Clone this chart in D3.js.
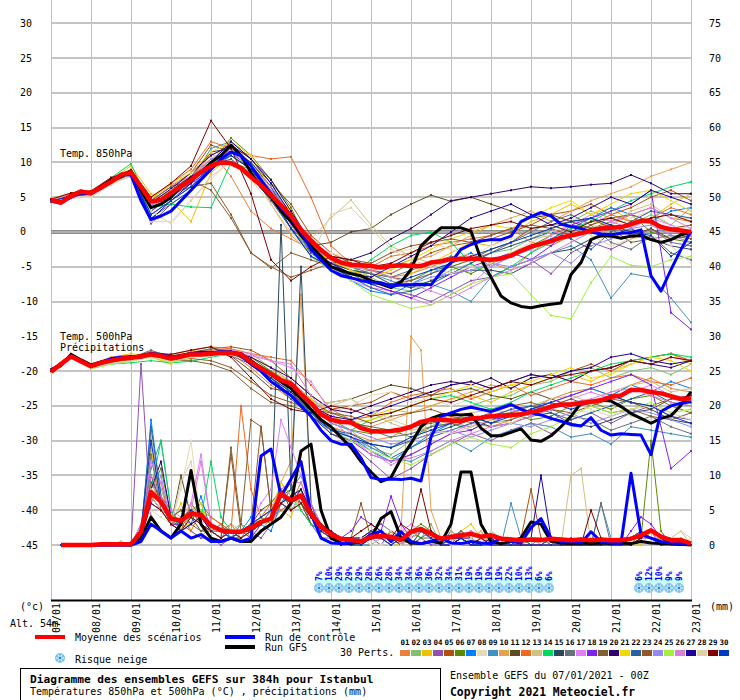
<!DOCTYPE html>
<html>
<head>
<meta charset="utf-8">
<script src="https://cdn.jsdelivr.net/npm/d3@7"></script>
<style>
body { margin: 0; background: #fff; }
text { font-family: "DejaVu Sans Mono", monospace; font-size: 10px; fill: #000; }
</style>
</head>
<body>
<script>
// GEFS ensemble, Istanbul, run 07/01/2021 00Z
// mean / control / GFS every 6h (65 pts), perturbations temps every 12h (33 pts), precip every 6h from +6h (64 pts)

let dayLabels = ['07/01','08/01','09/01','10/01','11/01','12/01','13/01','14/01','15/01',
                 '16/01','17/01','18/01','19/01','20/01','21/01','22/01','23/01'];
let tempTicks = [30,25,20,15,10,5,0,-5,-10,-15,-20,-25,-30,-35,-40,-45];
let tempGrid  = [30,25,20,15,10,5,-5,-10,-20,-25,-30,-35,-40,-45];
let precTicks = [75,70,65,60,55,50,45,40,35,30,25,20,15,10,5,0];

let pertColors = ['#e8803a','#80c070','#f0c000','#9050b0','#b05010','#5a8a00','#0080ff','#e8d8b8','#4090c0','#e8a050',
                  '#604c20','#f06820','#d0c080','#00d860','#284860','#687078','#e080f8','#8020f0','#806030','#300070',
                  '#f0d800','#2860a0','#905828','#9888f0','#a0f040','#d880d8','#200098','#e0d0a8','#800000','#0038c0'];

let mean850 = [4.6,4.2,5.2,5.8,5.6,6.4,7.2,8.2,8.6,6.5,
               4.4,4.6,5.6,6.6,7.5,8.6,9.5,10.0,9.9,9.2,
               7.9,6.7,5.3,3.8,2.3,0.3,-1.2,-2.6,-3.7,-4.4,
               -4.7,-4.8,-4.9,-5.1,-4.9,-4.8,-4.9,-4.9,-4.4,-4.2,
               -3.9,-3.9,-3.8,-3.9,-4.0,-3.8,-3.4,-2.7,-2.1,-1.7,
               -1.3,-0.8,-0.5,-0.2,0.2,0.5,0.6,0.7,1.1,1.6,
               1.5,0.7,0.4,0.2,0.0];
let ctrl850 = [4.4,4.2,5.0,5.6,5.5,6.3,7.3,8.3,8.2,4.5,
               1.8,2.3,3.0,4.5,6.0,7.5,9.0,10.5,11.5,11.0,
               9.5,7.5,5.5,3.5,2.0,0.0,-2.5,-4.0,-5.5,-6.3,
               -6.6,-7.0,-7.2,-7.3,-7.8,-7.6,-7.6,-7.5,-7.6,-5.8,
               -4.4,-2.5,-1.8,-1.3,-1.1,-1.1,-0.6,1.5,2.2,2.8,
               2.3,1.1,0.8,0.5,0.0,-0.3,-0.4,-0.2,-0.1,0.3,
               -6.3,-8.5,-5.4,-2.5,0.1];
let gfs850  = [4.5,4.3,5.3,5.9,5.5,6.5,7.4,8.0,8.8,6.0,
               3.5,4.0,5.0,6.5,7.8,8.5,10.0,11.0,12.5,11.0,
               8.5,6.5,5.0,3.0,1.5,-0.5,-2.0,-3.5,-5.0,-5.5,
               -6.0,-6.3,-7.0,-7.5,-8.0,-7.2,-5.4,-2.0,-0.6,0.6,
               0.6,0.6,0.1,-3.9,-6.5,-9.2,-10.2,-10.7,-10.9,-10.6,
               -10.4,-10.2,-6.1,-4.4,-1.1,-0.5,-0.6,-0.9,-0.6,-0.5,
               -1.1,-1.5,-1.1,-0.4,-0.1];

let mean500 = [-20.1,-19.0,-17.9,-18.6,-19.3,-18.8,-18.5,-18.2,-18.1,-17.9,
               -17.6,-17.8,-18.2,-17.9,-17.6,-17.6,-17.5,-17.4,-17.4,-17.6,
               -18.7,-19.6,-20.4,-21.3,-21.8,-23.3,-24.6,-26.2,-27.0,-27.3,
               -27.4,-28.2,-28.6,-28.7,-28.6,-28.4,-28.0,-27.3,-27.0,-27.0,
               -27.1,-27.2,-26.8,-26.7,-26.5,-26.4,-26.3,-26.2,-25.9,-25.6,
               -25.1,-24.8,-24.8,-24.6,-24.4,-24.2,-23.7,-23.5,-22.7,-22.7,
               -23.0,-23.2,-23.6,-24.0,-23.9];
let ctrl500 = [-19.8,-19.1,-17.8,-18.6,-19.3,-18.7,-18.2,-18.0,-17.9,-18.0,
               -17.5,-17.6,-18.0,-17.8,-17.5,-17.3,-17.4,-17.2,-17.3,-17.8,
               -19.0,-20.0,-21.5,-22.5,-23.5,-25.0,-26.5,-28.5,-30.0,-30.5,
               -30.5,-32.5,-35.3,-35.6,-35.5,-35.6,-35.4,-35.8,-29.5,-26.5,
               -26.0,-25.5,-25.2,-25.5,-25.8,-25.3,-24.8,-25.5,-26.0,-26.3,
               -26.8,-27.2,-27.7,-27.9,-26.7,-28.5,-29.2,-29.0,-29.1,-29.2,
               -32.0,-25.8,-25.0,-24.6,-24.4];
let gfs500  = [-19.9,-19.2,-17.6,-18.4,-19.1,-18.7,-18.4,-18.1,-18.0,-17.8,
               -17.5,-17.7,-18.1,-17.8,-17.5,-17.5,-17.4,-17.3,-17.3,-17.5,
               -18.5,-19.5,-20.5,-21.5,-22.5,-24.0,-25.5,-27.0,-28.0,-29.5,
               -31.0,-33.0,-34.5,-35.9,-35.3,-32.6,-30.4,-28.0,-26.8,-26.3,
               -26.2,-26.3,-26.2,-28.2,-29.3,-29.3,-28.8,-28.3,-29.9,-30.1,
               -29.3,-28.0,-26.5,-24.6,-24.4,-24.2,-24.3,-25.1,-26.1,-26.8,
               -27.5,-26.8,-26.4,-24.9,-23.0];

let meanPrec = [null,0,0,0,0,0.1,0.1,0.1,0.1,1.9,
                7.6,6.2,3.8,3.5,4.5,4.3,2.8,2.1,1.9,1.9,
                2.5,3.3,3.8,7.4,6.4,7.1,4.5,2.6,1.5,0.9,
                0.7,0.5,1.2,1.3,1.2,0.7,1.9,2.3,1.6,0.9,
                1.2,1.4,1.6,1.2,1.4,0.9,0.8,0.7,0.8,0.7,
                0.9,0.8,0.7,0.8,0.7,0.8,0.7,0.7,0.9,1.4,
                2.1,1.2,0.7,0.7,0.2];
let ctrlPrec = [null,0,0,0,0,0,0,0,0,0.5,
                3,2,1,2,1,1.5,0.5,0.5,1,0.5,
                1,12.8,13.8,7,9.5,12,4.5,1,0.3,0.2,
                0.3,0.5,1.5,2,0.5,1.9,0.5,0.2,0.5,1,
                0.3,0.2,0.5,0.3,0.2,1,0.5,0.3,2.5,3.8,
                1,0.5,0.5,0.3,1.9,0.5,0.3,0.2,10.3,1.5,
                1,0.5,0.3,0.2,0.1];
let gfsPrec  = [null,0,0,0,0,0,0,0,0,1,
                4,2,1,3,10.7,3,1,0.5,1,0.5,
                0.5,2,3,4,6,13.5,14.5,5,1,0.3,
                0.2,0.5,1,3.8,4.8,1,0.3,0.2,0.5,0.3,
                3,10.5,10.5,3,0.5,0.2,0.5,1,3.3,3,
                0.5,0.3,0.2,0.3,0.2,0.3,0.2,0.3,0.2,0.5,
                0.3,0.2,0.2,0.1,0];

let pert850 = [
 [4.6,5.4,5.7,7.6,8.6,3.8,6.0,7.0,11.5,8.0, 3.0,0.5,-1.0,-2.5,-4.0,-5.5,-6.0,-6.5,-6.0,-5.0, -4.0,-3.0,-4.5,-5.5,-3.0,-1.0,0.5,2.0,1.0,2.5, 3.5,2.0,1.5],
 [4.4,5.2,5.6,7.2,8.8,3.0,5.0,8.0,10.5,10.0, 8.5,5.0,2.0,-2.0,-4.5,-5.0,-6.5,-8.0,-8.5,-7.0, -5.5,-4.5,-3.0,-2.5,-1.0,0.5,1.5,3.0,2.0,1.0, 2.5,1.0,3.5],
 [4.7,5.5,5.3,7.5,9.5,5.5,4.5,1.5,8.5,11.0, 9.0,6.0,3.0,-1.5,-3.5,-5.5,-7.0,-8.0,-6.0,-4.5, -3.0,-1.5,-2.0,-0.5,1.5,2.5,4.0,2.5,3.5,1.5, 2.0,4.0,5.5],
 [4.5,5.0,5.6,7.0,9.0,1.2,4.0,6.0,9.5,12.0, 9.5,6.5,1.0,-3.0,-4.5,-6.0,-7.5,-8.5,-9.0,-10.0, -8.5,-7.0,-6.5,-5.0,-4.0,-6.0,-3.0,-1.5,-2.5,-1.0, 0.5,-1.5,-2.0],
 [4.3,5.6,5.8,7.8,8.2,4.5,6.5,8.5,12.5,11.5, 10.0,7.0,4.0,-0.5,-3.0,-4.5,-5.5,-6.0,-4.5,-3.0, -2.0,-1.5,-1.0,0.0,1.0,2.5,3.0,4.0,2.5,3.5, 5.0,6.0,4.5],
 [4.6,5.3,5.5,7.3,8.6,4.0,5.5,7.0,10.0,13.5, 11.0,7.5,3.5,-2.5,-4.0,-6.5,-7.0,-7.5,-7.0,-5.5, -5.0,-6.0,-4.5,-3.5,-2.0,-0.5,1.0,0.5,1.5,2.5, 0.0,-1.0,-1.5],
 [4.4,5.1,5.4,7.0,8.4,2.5,4.5,6.5,9.0,11.0, 9.0,5.5,0.5,-3.5,-5.0,-7.0,-8.5,-9.0,-7.5,-6.0, -4.5,-3.0,-5.0,-3.5,-2.5,-1.0,0.5,2.0,3.5,2.5, 1.5,3.0,3.5],
 [4.2,4.8,5.0,6.8,8.0,1.5,1.5,4.5,7.5,10.5, 8.5,5.0,1.5,-2.0,-3.0,-4.0,-4.5,-3.0,-2.5,-1.5, -2.5,-3.5,-2.0,-1.0,0.0,1.5,2.0,1.0,0.5,2.0, 3.0,1.0,0.5],
 [4.5,5.3,5.6,7.4,8.9,3.5,5.0,7.5,12.0,13.0, 10.5,7.0,2.0,-2.5,-4.5,-5.5,-6.0,-7.0,-8.0,-7.5, -8.5,-10.0,-6.5,-5.0,-4.0,-3.0,-2.0,-4.0,-9.5,-6.0, -6.5,-9.5,-13.0],
 [4.8,5.6,5.9,7.7,8.3,4.8,6.8,8.0,11.0,12.5, 9.5,4.0,-0.5,-3.0,-4.5,-5.0,-5.5,-5.0,-4.0,-3.5, -2.0,-0.5,1.0,2.0,3.0,1.5,3.0,4.5,5.5,6.5, 8.0,9.0,10.0],
 [4.6,5.4,5.6,7.4,8.5,4.2,6.0,8.0,10.0,11.0, 9.0,5.0,0.5,-2.0,-1.5,0.0,0.5,2.5,4.0,5.3, 4.4,5.0,4.0,3.0,2.0,2.5,1.5,0.5,1.0,-0.5, 0.5,-1.0,-0.5],
 [4.5,5.3,5.5,7.5,8.8,5.0,7.0,9.0,13.0,12.0, 11.0,10.5,10.8,5.0,-2.0,-4.5,-5.0,-3.5,-3.0,-2.0, -1.5,-1.0,-0.5,0.5,-1.5,-2.0,-0.5,1.0,2.5,1.5, 2.0,3.5,2.5],
 [4.6,5.5,5.4,7.0,8.0,3.5,5.5,7.5,10.5,12.5, 10.0,6.5,2.5,-1.0,2.0,4.6,1.0,-2.0,-3.5,-4.5, -5.0,-4.0,-3.0,-2.0,-1.0,-0.5,0.5,1.5,1.0,3.0, 4.0,2.0,2.0],
 [4.3,5.0,5.6,7.8,9.8,3.5,4.0,3.6,3.5,10.0, 9.0,6.0,2.0,-3.0,-5.5,-6.0,-4.0,-2.0,-0.5,0.0, -1.5,-4.5,-6.5,-5.0,-3.0,-1.5,0.5,1.5,3.0,4.5, 5.5,6.5,7.2],
 [4.5,5.3,5.6,7.3,8.6,4.0,6.0,8.0,11.5,12.0, 10.0,6.5,1.5,-3.0,-4.5,-5.5,-6.0,-7.5,-8.0,-7.0, -6.0,-5.5,-5.5,-6.0,-4.5,-3.0,-2.5,-1.0,-0.5,0.5, -1.0,-2.0,-2.5],
 [4.4,5.2,5.5,7.2,8.4,3.8,5.5,7.0,10.0,11.5, 9.0,6.0,2.5,-2.0,-4.0,-5.0,-6.0,-6.5,-5.5,-4.5, -3.5,-4.0,-3.0,-1.5,0.0,1.5,2.5,1.0,-1.5,-2.5, -0.5,-3.0,-4.0],
 [4.5,5.4,5.6,7.4,8.7,4.5,6.5,8.0,10.5,11.0, 9.5,6.0,1.0,-3.0,-5.0,-7.0,-8.0,-8.5,-9.5,-10.5, -9.0,-7.5,-5.0,-3.5,-2.5,-0.5,1.0,2.5,1.5,0.5, 2.0,1.0,-0.5],
 [4.6,5.3,5.7,7.5,8.5,3.0,5.0,7.0,9.0,11.5, 9.0,5.5,1.5,-3.5,-5.5,-6.5,-7.5,-8.5,-9.5,-8.0, -6.5,-5.0,-4.0,-3.0,-4.0,-2.0,1.0,2.0,3.0,4.0, 6.0,-11.6,-14.0],
 [4.5,5.5,5.7,7.5,8.7,4.5,6.5,7.5,6.0,2.0, -3.0,-5.2,-3.0,-4.0,-5.0,-6.0,-5.5,-6.5,-7.0,-6.0, -5.0,-4.0,-2.5,-1.5,0.5,1.0,1.5,2.0,0.5,-1.5, -1.0,-0.5,-1.0],
 [4.5,5.4,5.8,7.6,8.8,4.2,6.2,8.5,11.0,12.5, 10.5,7.5,3.0,-1.5,-3.5,-4.0,-3.0,-1.0,0.5,2.5, 4.5,5.0,5.5,6.0,6.5,6.3,6.5,6.8,7.0,8.2, 7.0,5.5,5.5],
 [4.6,5.5,5.6,7.4,9.0,4.8,7.0,8.5,11.5,13.0, 11.0,6.0,1.5,-2.5,-4.0,-5.5,-6.5,-5.5,-4.0,-2.5, -1.0,0.0,1.0,0.5,2.0,3.5,4.5,2.5,4.0,5.5, 6.0,4.5,3.0],
 [4.3,5.1,5.4,7.1,8.3,2.0,4.0,6.0,9.5,10.5, 8.0,4.5,0.5,-3.0,-5.0,-6.5,-8.0,-9.0,-8.5,-7.5, -6.0,-4.5,-3.0,-2.0,-1.0,0.0,-1.0,-2.5,0.0,1.5, 3.0,2.5,2.0],
 [4.4,5.2,5.8,7.2,8.3,4.0,5.5,6.5,7.0,2.5, -3.0,-5.0,-6.5,-5.5,-4.5,-4.0,-4.5,-3.0,-2.0,-1.5, -1.0,-1.5,-0.5,0.5,1.0,0.5,-0.5,1.0,2.0,2.5, 1.5,0.5,1.0],
 [4.5,5.2,5.6,7.3,8.6,3.5,5.5,7.5,10.5,11.5, 9.5,6.5,2.5,-2.5,-4.5,-6.0,-7.0,-8.0,-7.5,-6.5, -6.0,-5.5,-4.5,-5.0,-4.0,-3.0,-4.5,-2.0,-1.0,0.5, 1.0,-0.5,-1.5],
 [4.4,5.3,5.6,7.4,8.5,4.0,6.0,7.5,10.0,11.0, 9.5,6.0,1.5,-3.5,-5.5,-7.0,-9.0,-10.0,-11.0,-10.5, -9.0,-7.5,-6.5,-6.0,-9.0,-12.0,-12.5,-7.3,-3.5,-4.8, -5.0,-4.0,-3.5],
 [4.5,5.4,5.5,7.3,8.4,3.8,5.8,7.8,10.0,12.0, 9.5,6.0,2.0,-2.0,-4.0,-5.0,-5.5,-6.5,-7.5,-8.5, -9.5,-8.0,-6.5,-5.5,-4.5,-3.0,-1.5,0.0,1.5,2.5, 3.5,2.0,0.5],
 [4.4,5.2,5.6,7.6,8.9,1.8,4.5,7.0,10.0,13.0, 10.5,7.0,2.5,-2.5,-4.5,-6.0,-6.5,-5.0,-3.5,-2.0, 0.0,2.0,3.0,4.0,2.5,1.0,2.0,3.5,5.0,4.0, 6.0,5.0,4.0],
 [4.3,5.0,5.2,6.9,8.1,3.0,1.2,4.5,8.0,10.0, 7.5,4.0,0.0,-3.5,2.5,3.5,0.5,-2.5,-4.0,-5.0, -6.0,-5.0,-4.5,-3.0,-1.5,0.0,1.0,-0.5,-2.0,-1.0, -0.5,-2.0,-4.5],
 [4.7,5.6,5.9,7.8,8.9,5.0,7.0,9.5,16.0,12.0, 5.5,-4.0,-7.0,-5.0,-3.5,-4.0,-5.0,-4.5,-3.0,-1.5, -0.5,0.5,1.0,1.5,0.5,1.0,0.0,1.5,2.0,1.0, 2.0,2.5,1.5],
 [4.4,5.2,5.5,7.2,8.5,2.5,4.5,6.5,9.5,11.0, 9.0,5.5,0.5,-3.5,-5.0,-6.5,-7.5,-7.5,-6.5,-5.5, -4.5,-3.5,-2.5,-1.5,-0.5,0.5,1.5,2.0,1.0,0.0, -0.5,-3.5,-1.5]
];

let pert500 = [
 [-20.0,-18.0,-19.0,-18.2,-17.8,-17.5,-18.0,-17.3,-17.0,-17.5, -19.5,-22.0,-24.0,-26.5,-28.0,-29.0,-30.0,-29.5,-28.0,-27.0, -26.5,-27.5,-28.0,-27.0,-25.5,-24.0,-23.0,-22.5,-23.5,-22.0, -21.0,-22.5,-23.0],
 [-19.8,-17.8,-19.5,-18.8,-18.3,-17.8,-18.5,-17.8,-17.2,-17.0, -17.5,-19.5,-22.5,-25.0,-27.5,-28.5,-31.0,-32.0,-30.0,-28.0, -26.0,-25.0,-24.0,-23.5,-22.0,-21.5,-20.0,-19.5,-21.0,-20.0, -19.5,-20.5,-19.0],
 [-20.1,-17.5,-19.0,-18.0,-17.5,-18.0,-19.0,-17.0,-17.5,-17.0, -18.5,-20.0,-21.5,-24.0,-26.0,-27.0,-26.5,-25.5,-26.0,-25.0, -24.0,-23.5,-24.5,-23.0,-22.0,-21.0,-20.5,-21.5,-20.0,-19.0, -18.0,-17.5,-19.0],
 [-19.9,-17.9,-19.2,-18.6,-18.2,-17.6,-18.1,-17.5,-17.6,-17.8, -19.0,-21.0,-23.0,-26.0,-29.0,-30.5,-33.0,-35.5,-34.0,-32.0, -30.5,-29.0,-30.0,-28.5,-27.5,-29.0,-27.0,-26.0,-27.5,-26.0, -25.0,-26.5,-27.0],
 [-20.0,-17.6,-19.1,-18.4,-18.0,-17.2,-17.8,-17.3,-16.8,-16.5, -17.0,-18.5,-21.0,-23.5,-25.5,-25.0,-24.5,-23.0,-24.0,-23.5, -22.0,-21.5,-22.5,-21.5,-20.5,-21.0,-20.0,-19.0,-20.0,-18.5, -18.0,-17.5,-18.5],
 [-19.8,-17.7,-19.3,-18.5,-18.1,-17.9,-18.3,-17.7,-17.3,-17.2, -18.0,-20.0,-22.5,-25.5,-27.0,-28.5,-29.0,-28.5,-29.5,-28.0, -27.5,-28.5,-27.0,-26.0,-27.0,-26.5,-25.0,-24.5,-25.5,-24.0, -23.5,-25.0,-26.0],
 [-20.0,-17.8,-19.4,-18.6,-18.3,-17.7,-18.4,-17.9,-17.6,-17.5, -18.5,-20.5,-23.0,-26.0,-28.5,-29.5,-31.5,-33.0,-31.0,-29.0, -27.5,-26.5,-27.5,-26.0,-25.0,-24.5,-23.5,-22.5,-23.5,-22.0, -23.0,-21.5,-22.5],
 [-20.2,-17.9,-19.6,-18.9,-18.4,-18.0,-18.6,-18.0,-17.7,-17.6, -18.8,-21.0,-22.0,-24.5,-26.0,-25.0,-23.5,-23.0,-24.5,-24.0, -25.0,-24.0,-25.5,-26.5,-25.5,-24.5,-25.5,-26.0,-25.0,-26.5, -27.0,-26.0,-25.5],
 [-19.9,-17.7,-19.2,-18.5,-18.1,-17.6,-18.2,-17.6,-17.5,-17.3, -18.5,-20.5,-22.5,-25.5,-28.0,-29.5,-31.0,-32.5,-33.0,-31.5, -30.0,-31.5,-29.5,-28.5,-27.5,-28.0,-29.5,-29.0,-30.5,-28.0, -28.5,-29.0,-29.5],
 [-20.0,-17.5,-19.0,-18.3,-17.9,-17.4,-17.9,-17.4,-17.2,-17.0, -18.0,-19.5,-21.5,-24.0,-26.5,-27.5,-28.0,-27.0,-26.0,-25.0, -24.0,-23.0,-22.0,-22.5,-21.0,-20.5,-21.5,-20.0,-19.5,-18.5, -19.0,-18.0,-18.5],
 [-19.9,-17.8,-19.3,-18.6,-18.2,-17.7,-18.3,-17.7,-17.6,-17.8, -20.0,-22.5,-23.0,-25.0,-24.5,-24.0,-23.0,-22.0,-22.5,-23.5, -23.0,-22.5,-23.5,-24.0,-23.0,-24.0,-25.0,-24.5,-23.5,-24.5, -25.5,-24.0,-23.5],
 [-20.0,-17.6,-19.1,-18.4,-18.0,-17.3,-17.6,-17.0,-16.5,-16.8, -17.5,-18.0,-18.5,-22.0,-25.5,-27.0,-26.5,-24.5,-23.5,-23.0, -22.5,-24.0,-23.0,-22.0,-23.5,-22.5,-21.5,-22.0,-21.0,-20.5, -21.5,-22.0,-21.0],
 [-20.1,-17.8,-19.4,-18.7,-18.3,-17.8,-18.4,-17.8,-17.4,-17.3, -18.5,-20.5,-22.0,-24.5,-25.0,-24.0,-26.0,-27.5,-28.5,-28.0, -27.0,-26.0,-25.5,-26.0,-25.0,-24.0,-23.5,-24.5,-23.0,-22.0, -21.5,-23.0,-22.5],
 [-19.7,-17.9,-19.6,-19.0,-18.8,-18.5,-18.8,-18.6,-18.0,-17.5, -18.5,-20.0,-22.0,-25.0,-27.5,-28.5,-27.0,-26.0,-25.0,-24.0, -23.5,-24.5,-25.5,-24.5,-23.0,-22.0,-21.0,-20.0,-19.0,-18.5, -18.0,-17.5,-18.0],
 [-19.9,-17.7,-19.2,-18.5,-18.2,-17.6,-18.1,-17.5,-17.3,-17.4, -18.8,-21.0,-23.5,-26.5,-29.0,-30.0,-30.5,-31.0,-30.0,-29.0, -28.0,-27.0,-28.0,-27.5,-26.5,-26.0,-27.5,-28.0,-27.0,-26.0, -25.5,-27.0,-27.5],
 [-20.0,-17.8,-19.3,-18.5,-18.1,-17.0,-18.0,-17.5,-16.8,-17.0, -18.3,-20.5,-22.5,-24.5,-26.0,-27.0,-28.5,-29.5,-29.0,-28.0, -27.5,-28.0,-27.0,-26.0,-25.0,-25.5,-26.5,-27.0,-28.5,-27.5, -26.5,-28.0,-29.0],
 [-20.0,-17.6,-19.1,-18.3,-17.9,-17.5,-18.2,-17.5,-17.2,-17.0, -17.5,-18.5,-19.5,-21.5,-26.0,-29.0,-31.5,-33.5,-32.0,-30.5, -29.0,-27.5,-26.5,-25.5,-26.5,-25.0,-24.0,-23.0,-24.0,-23.0, -22.0,-23.5,-24.0],
 [-19.9,-17.8,-19.3,-18.6,-18.2,-17.7,-18.3,-17.6,-17.4,-17.5, -18.5,-20.5,-23.0,-26.5,-28.5,-30.0,-32.0,-33.0,-32.0,-30.5, -29.0,-28.5,-27.0,-26.5,-25.5,-24.5,-23.5,-22.5,-21.5,-20.5, -22.0,-34.0,-31.5],
 [-20.0,-17.9,-19.4,-18.7,-18.3,-17.8,-18.5,-18.5,-19.0,-20.0, -22.5,-24.5,-25.0,-26.0,-27.0,-27.5,-28.0,-28.5,-28.0,-27.5, -27.0,-26.5,-27.5,-27.0,-26.0,-25.0,-24.0,-25.0,-26.0,-25.5, -26.5,-27.0,-26.0],
 [-19.8,-17.6,-19.1,-18.4,-18.0,-17.4,-18.0,-17.4,-17.2,-17.1, -18.0,-19.5,-21.0,-23.5,-25.5,-26.0,-25.0,-24.0,-23.0,-22.0, -21.5,-22.0,-21.0,-22.5,-21.0,-20.5,-21.5,-20.0,-19.5,-18.5, -19.0,-19.5,-18.5],
 [-20.0,-17.7,-19.3,-18.6,-18.2,-17.8,-18.6,-17.3,-17.6,-17.4, -18.7,-20.5,-22.0,-24.0,-26.5,-27.5,-27.0,-26.0,-25.0,-24.0, -23.0,-22.0,-23.0,-22.0,-21.5,-20.5,-19.5,-21.0,-20.5,-19.0, -18.0,-18.5,-20.0],
 [-19.9,-17.8,-19.3,-18.5,-18.1,-17.6,-18.2,-17.7,-17.6,-17.6, -19.0,-21.5,-24.0,-26.5,-28.5,-29.0,-30.5,-32.5,-31.0,-29.5, -28.5,-27.5,-26.5,-25.5,-25.0,-26.0,-27.0,-26.0,-25.0,-24.0, -23.0,-24.5,-25.0],
 [-20.0,-17.8,-19.4,-18.6,-18.2,-17.8,-18.4,-18.2,-18.5,-19.5, -21.5,-23.5,-24.5,-25.5,-26.0,-26.5,-27.5,-26.5,-26.0,-25.5, -26.5,-27.0,-26.0,-25.0,-24.5,-25.5,-26.0,-25.0,-24.0,-24.5, -25.0,-24.0,-24.5],
 [-19.9,-17.7,-19.2,-18.5,-18.1,-17.6,-18.2,-17.6,-17.4,-17.3, -18.6,-20.5,-22.5,-25.0,-27.5,-28.5,-29.5,-30.5,-30.0,-29.0, -28.5,-29.5,-28.5,-27.5,-28.0,-27.0,-26.0,-27.5,-26.5,-25.5, -26.0,-27.0,-28.0],
 [-20.0,-17.8,-19.7,-19.0,-18.6,-18.0,-18.8,-18.0,-17.7,-17.6, -18.9,-20.8,-23.0,-26.0,-28.5,-30.0,-31.5,-32.5,-33.5,-32.0, -30.5,-29.5,-30.5,-31.0,-29.0,-28.0,-26.5,-25.0,-26.0,-25.5, -24.5,-26.0,-25.5],
 [-20.0,-17.7,-19.2,-18.5,-18.1,-17.5,-18.1,-17.5,-17.3,-17.2, -17.8,-18.5,-19.0,-23.5,-27.0,-29.5,-32.0,-33.0,-32.5,-31.5, -30.0,-29.0,-28.0,-27.5,-26.5,-25.5,-24.5,-24.0,-23.0,-22.5, -23.5,-24.5,-25.0],
 [-19.9,-17.8,-19.3,-18.5,-18.1,-17.6,-18.2,-17.6,-17.3,-17.2, -18.5,-20.5,-22.5,-25.0,-26.5,-27.0,-26.0,-25.0,-24.0,-23.0, -22.0,-21.5,-22.5,-21.5,-20.5,-21.0,-20.0,-19.5,-18.0,-17.5, -18.5,-19.0,-18.5],
 [-20.2,-18.0,-19.6,-18.9,-18.5,-18.0,-18.6,-18.0,-17.8,-17.7, -18.8,-20.5,-22.5,-25.0,-24.5,-24.0,-25.5,-27.0,-28.0,-28.5, -29.0,-28.0,-27.0,-27.5,-26.0,-25.0,-24.5,-25.5,-26.5,-25.5, -25.0,-26.0,-27.0],
 [-20.0,-17.6,-19.1,-18.3,-17.9,-17.5,-17.6,-17.0,-16.5,-18.0, -21.0,-24.0,-25.5,-26.0,-25.0,-25.5,-26.5,-26.0,-25.0,-24.0, -24.5,-23.5,-22.5,-21.5,-22.0,-21.0,-20.5,-20.0,-19.5,-18.5, -19.0,-18.0,-18.5],
 [-19.9,-17.7,-19.2,-18.5,-18.1,-17.6,-18.2,-17.6,-17.5,-17.4, -18.7,-21.0,-23.0,-26.0,-28.5,-29.5,-30.5,-31.0,-29.5,-28.5, -27.5,-26.5,-27.5,-26.5,-25.5,-24.5,-25.5,-24.5,-23.5,-24.5, -25.0,-26.5,-27.5]
];

let pertPrec = [
 [0,0,0,0,0,0,0,0, 1,9,6,3,2,4,6,2, 1,2,1,2,3,5,8,6, 9,5,2,1,0,0,0,1, 2,1,0,1,2,2,1,0, 0,1,2,0,0,1,0,0, 0,1,0,0,1,0,0,0, 0,1,2,1,0,0,0,0],
 [0,0,0,0,0,0,0,0, 2,12,8,4,3,5,3,2, 1,2,3,1,2,4,6,8, 6,3,2,1,0,0,1,2, 1,0,1,2,1,3,0,0, 1,0,0,2,1,0,0,1, 0,0,1,0,0,1,0,0, 0,0,1,2,1,0,0,0],
 [0,0,0,0,0,0,0,0, 1,14,5,3,6,2,1,3, 2,1,2,3,4,3,5,4, 8,4,3,2,1,0,0,0, 1,0,0,2,2,1,0,1, 2,3,1,0,0,0,1,0, 0,0,0,1,0,0,1,0, 1,0,0,2,1,1,0,0],
 [0,0,0,0,0,0,0,0, 26,4,2,1,3,2,1,1, 0,1,1,2,1,3,6,5, 7,3,1,1,0,0,0,1, 0,2,1,0,1,0,0,1, 0,0,1,0,0,0,0,0, 0,1,0,0,0,0,0,0, 0,0,1,1,0,0,0,0],
 [0,0,0,0,0,0,0,0, 2,10,7,5,2,6,4,3, 2,3,2,1,2,3,7,9, 5,3,2,1,1,0,0,1, 2,1,0,1,2,1,0,0, 1,0,0,0,1,0,1,8, 1,0,1,0,0,0,1,0, 0,1,2,1,0,1,0,0],
 [0,0,0,0,0,0,0,0, 3,8,11,4,3,5,6,4, 3,2,1,3,4,3,9,7, 6,4,3,2,1,1,0,2, 1,2,0,2,3,2,1,0, 1,2,1,0,0,1,0,0, 0,1,0,0,1,0,0,0, 0,0,1,15,2,0,0,0],
 [0,0,0,0,0,0,0,0, 1,18,7,4,5,3,7,2, 3,1,2,4,3,2,6,8, 10,6,3,2,1,1,0,0, 1,2,1,2,2,1,0,1, 2,1,0,0,1,0,0,1, 1,0,0,0,1,0,0,0, 1,0,2,1,1,0,0,0],
 [0,0,0,0,0,0,0,0, 2,5,4,3,8,15,3,2, 1,3,2,1,4,5,7,6, 8,5,2,1,1,0,1,0, 0,1,0,2,2,1,1,0, 0,1,0,2,0,0,0,0, 0,0,0,0,0,1,0,0, 0,1,1,2,1,0,0,1],
 [0,0,0,0,0,0,0,0, 3,11,15,5,3,4,5,3, 2,1,3,2,3,4,5,6, 7,4,3,1,1,1,0,1, 2,1,0,1,2,1,0,2, 1,0,0,1,0,6,1,0, 0,1,0,0,0,0,6,1, 0,1,2,1,0,0,0,0],
 [0,0,0,0,0,0,0,0, 1,8,6,4,2,3,4,2, 1,3,1,2,3,4,9,12, 36,6,2,1,1,1,2,3, 2,1,2,30,28,5,1,2, 1,0,0,1,1,0,0,1, 1,0,0,0,1,0,0,0, 0,1,1,2,0,1,1,0],
 [0,0,0,0,0,0,0,0, 2,7,5,3,10,4,2,3, 2,1,2,3,5,6,8,5, 6,3,2,2,1,0,0,1, 1,0,1,2,1,2,1,0, 1,2,1,0,0,0,0,0, 0,0,1,0,0,0,0,0, 0,0,1,2,1,0,0,0],
 [0,0,0,0,0,0,0,0, 1,6,9,3,4,2,5,4, 3,2,20,8,4,6,5,6, 7,4,3,2,1,0,0,1, 1,0,1,2,2,2,1,0, 2,1,0,1,0,0,0,1, 0,0,1,0,0,0,0,0, 1,0,1,2,0,0,1,0],
 [0,0,0,0,0,0,0,0, 2,16,6,4,3,6,3,2, 1,2,2,3,4,5,7,8, 6,4,2,1,1,1,0,1, 2,1,0,2,2,2,1,1, 1,1,2,1,0,0,0,0, 0,0,0,10,11,0,0,1, 1,0,2,1,0,1,2,0],
 [0,0,0,0,0,0,0.5,0, 2,8,15,5,2,3,4,12, 4,2,1,2,3,4,6,7, 5,3,2,1,1,0,0,1, 1,2,1,2,1,2,1,0, 1,0,1,0,0,0,0,0, 0,1,0,0,0,0,0,0, 0,1,1,2,1,0,0,0],
 [0,0,0,0,0,0,0,0, 2,10,6,3,3,4,5,2, 2,1,2,2,3,4,46,8, 40,6,2,1,0,1,0,1, 1,2,1,0,2,1,0,1, 1,0,0,1,0,0,1,0, 0,0,0,1,0,0,0,0, 0,1,1,2,1,0,0,0],
 [0,0,0,0,0,0,0,0, 1,13,5,4,2,3,4,3, 2,1,1,2,3,5,6,7, 8,5,3,2,1,1,1,2, 3,2,1,1,2,1,0,1, 2,1,0,0,1,0,0,0, 1,0,0,1,0,0,6,0, 1,0,2,1,0,0,0,0],
 [0,0,0,0,0,0,0,0, 3,12,9,5,4,6,13,3, 2,2,1,3,6,8,18,14, 10,6,3,2,1,1,0,1, 1,0,2,3,2,1,0,0, 1,2,1,0,0,0,0,1, 0,0,1,0,0,0,0,0, 0,1,1,2,1,0,0,0],
 [0,0,0,0,0,0,0,0, 2,6,5,3,3,4,3,2, 1,2,2,1,3,4,6,5, 7,4,2,1,1,2,4,3, 2,7,3,1,2,1,1,0, 1,0,1,0,0,1,0,0, 0,0,0,0,0,1,0,0, 0,2,4,3,1,0,0,0],
 [0,0,0,0,0,0,0,0, 1,9,7,4,5,3,2,2, 1,14,3,18,17,5,8,6, 7,4,2,1,1,0,0,1, 1,2,1,0,1,1,0,1, 1,0,0,1,0,0,0,0, 0,0,0,0,0,1,0,0, 0,1,2,1,0,0,0,0],
 [0,0,0,0,0,0,0,0, 2,8,12,4,3,5,4,3, 2,1,2,2,3,4,7,6, 8,4,2,1,0,1,1,2, 1,2,0,1,2,1,0,0, 1,1,0,0,0,0,0,0, 0,0,0,0,0,0,0,0, 1,0,1,2,1,1,0,0],
 [0,0,0,0,0,0,0,0, 1,7,5,3,2,4,6,2, 1,2,1,2,4,5,9,7, 8,5,3,2,1,1,0,1, 2,1,0,1,2,2,1,1, 1,0,1,0,0,1,0,0, 0,0,1,0,0,0,0,0, 0,1,2,1,1,0,0,0],
 [0,0,0,0,0,0,0,0, 2,17,7,4,3,5,4,3, 2,1,2,3,4,5,7,8, 6,4,2,2,1,0,0,2, 1,0,1,2,2,1,0,1, 1,0,0,0,0,0,0,0, 0,1,0,0,0,0,0,0, 0,1,1,2,1,0,0,0],
 [0,0,0,0,0,0,0,0, 2,8,6,3,4,5,3,2, 1,13,2,3,17,5,7,6, 7,5,3,2,1,1,6,1, 1,2,1,0,2,1,0,1, 1,0,1,0,0,0,1,0, 0,0,0,1,0,0,0,0, 1,1,2,1,0,0,0,0],
 [0,0,0,0,0,0,0,0, 1,6,10,3,4,3,4,2, 1,2,1,2,3,4,6,5, 7,4,2,1,1,0,1,1, 2,1,0,2,2,1,0,0, 1,0,0,1,0,0,0,0, 0,0,0,0,0,0,1,0, 0,1,1,2,0,0,0,0],
 [0,0,0,0,0,0,0.5,0, 2,8,6,4,3,4,5,3, 2,1,2,3,4,5,7,6, 6,4,2,1,1,0,0,1, 1,2,0,1,2,1,1,0, 0,1,0,0,0,0,0,1, 0,0,0,0,0,0,0,0, 0,1,2,1,0,0,0,0],
 [0,0,0,0,0,0,0,0, 2,10,7,4,3,5,12,3, 2,1,2,3,4,5,8,9, 9,5,2,2,1,1,0,1, 1,1,2,2,2,1,0,1, 1,0,1,0,0,0,0,0, 0,0,0,0,1,0,0,0, 0,1,2,1,0,0,1,0],
 [0,0,0,0,0,0,0,0, 1,7,5,3,2,3,4,2, 1,2,1,2,3,4,6,7, 8,5,3,1,1,1,0,1, 2,1,0,1,2,1,0,0, 1,0,0,1,0,0,0,1, 10,1,0,0,0,0,0,0, 0,1,1,2,1,0,0,0],
 [0,0,0,0,0,0,0,0, 2,7,5,3,9,12,3,2, 1,2,1,2,3,4,6,5, 7,4,2,1,1,0,1,0, 1,2,0,1,2,1,1,0, 0,1,0,0,0,0,0,1, 0,0,0,0,0,1,0,0, 0,1,2,1,0,1,2,1],
 [0,0,0,0,0,0,0,0, 1,6,5,3,2,4,3,2, 1,2,1,2,3,4,6,5, 6,4,3,2,1,1,2,3, 2,1,3,2,8,2,1,1, 1,0,1,0,0,0,0,0, 0,0,0,0,0,5,1,0, 0,1,1,2,1,0,0,0],
 [0,0,0,0,0,0,0,0, 2,15,6,4,3,5,4,3, 2,1,2,3,4,5,7,6, 7,4,2,1,1,0,0,1, 1,0,1,2,2,1,0,1, 1,0,0,0,0,0,0,0, 0,0,0,0,0,0,0,0, 0,1,2,1,0,0,0,0]
];

// risque neige (%), 6h steps
let snowStart1 = 162;   // 13/01 18Z
let snowPct1 = [7,10,29,29,29,28,26,28,34,34,36,36,32,34,31,19,19,19,19,22,10,13,6,6];
let snowStart2 = 354;   // 21/01 18Z
let snowPct2 = [6,12,10,9,9];


let svg = d3.select('body').append('svg')
    .attr('width', 740)
    .attr('height', 700);

let x  = d3.scaleLinear().domain([0, 384]).range([51, 691]);
let yT = d3.scaleLinear().domain([-45, 30]).range([545, 23.3]);
let yP = d3.scaleLinear().domain([0, 75]).range([545, 23.3]);

// grid
let grid = svg.append('g');
grid.selectAll('.vg')
    .data(dayLabels)
    .enter().append('line')
        .attr('x1', (d, i) => Math.round(x(i * 24)) + 0.5)
        .attr('x2', (d, i) => Math.round(x(i * 24)) + 0.5)
        .attr('y1', 0).attr('y2', 600)
        .style('stroke', '#c0c0c0').style('stroke-width', 1);

grid.selectAll('.hg')
    .data(tempGrid)
    .enter().append('line')
        .attr('x1', 51).attr('x2', 691)
        .attr('y1', d => Math.round(yT(d)))
        .attr('y2', d => Math.round(yT(d)))
        .style('stroke', '#c4c4c4').style('stroke-width', 2);

// 0°C line
grid.append('line')
    .attr('x1', 51).attr('x2', 691)
    .attr('y1', Math.round(yT(0))).attr('y2', Math.round(yT(0)))
    .style('stroke', '#8c8c8c').style('stroke-width', 4);
grid.append('line')
    .attr('x1', 51).attr('x2', 691)
    .attr('y1', Math.round(yT(0))).attr('y2', Math.round(yT(0)))
    .style('stroke', '#d0d0d0').style('stroke-width', 1);

// axis labels
svg.selectAll('.tl')
    .data(tempTicks)
    .enter().append('text')
        .attr('x', 20)
        .attr('y', d => yT(d))
        .attr('dy', '0.35em')
        .text(d => d);

svg.selectAll('.pl')
    .data(precTicks)
    .enter().append('text')
        .attr('x', 709)
        .attr('y', d => yP(d))
        .attr('dy', '0.35em')
        .text(d => d);

svg.append('line')
    .attr('x1', 51).attr('x2', 692)
    .attr('y1', 600.5).attr('y2', 600.5)
    .style('stroke', '#000').style('stroke-width', 2);

svg.selectAll('.dl')
    .data(dayLabels)
    .enter().append('text')
        .attr('transform', (d, i) => `translate(${x(i * 24) + 9}, 603) rotate(-90)`)
        .attr('text-anchor', 'end')
        .text(d => d);

svg.append('text').attr('x', 20).attr('y', 610).text('(°c)');
svg.append('text').attr('x', 710).attr('y', 610).text('(mm)');
svg.append('text').attr('x', 10).attr('y', 627).text('Alt. 54m');

svg.append('text').attr('x', 60).attr('y', 157).text('Temp. 850hPa');
svg.append('text').attr('x', 60).attr('y', 340).text('Temp. 500hPa');
svg.append('text').attr('x', 60).attr('y', 351).text('Précipitations');

// series
let lineT = d3.line().defined(d => d.v != null).x(d => x(d.h)).y(d => yT(d.v));
let lineP = d3.line().defined(d => d.v != null).x(d => x(d.h)).y(d => yP(d.v));

function toPts(values, step, offset) {
    return values.map((v, i) => ({h: offset + i * step, v: v}));
}

let perts = svg.append('g');
pertColors.forEach((c, m) => {
    let sets = [
        [toPts(pert850[m], 12, 0), lineT, yT],
        [toPts(pert500[m], 12, 0), lineT, yT],
        [toPts(pertPrec[m], 6, 6), lineP, yP]
    ];
    sets.forEach(([pts, gen, ys]) => {
        perts.append('path')
            .datum(pts)
            .attr('d', gen)
            .style('fill', 'none')
            .style('stroke', c)
            .style('stroke-width', 1);
        perts.selectAll(null)
            .data(pts)
            .enter().append('rect')
                .attr('x', d => x(d.h) - 1)
                .attr('y', d => ys(d.v) - 1)
                .attr('width', 2).attr('height', 2)
                .style('fill', c);
    });
});

function mainLine(values, gen, offset, color, w) {
    svg.append('path')
        .datum(toPts(values, 6, offset))
        .attr('d', gen)
        .style('fill', 'none')
        .style('stroke', color)
        .style('stroke-width', w)
        .style('stroke-linejoin', 'round');
}

mainLine(gfs850, lineT, 0, '#000', 3);
mainLine(gfs500, lineT, 0, '#000', 3);
mainLine(gfsPrec, lineP, 0, '#000', 3);
mainLine(ctrl850, lineT, 0, '#0000ff', 3);
mainLine(ctrl500, lineT, 0, '#0000ff', 3);
mainLine(ctrlPrec, lineP, 0, '#0000ff', 3);
mainLine(mean850, lineT, 0, '#ff0000', 4.5);
mainLine(mean500, lineT, 0, '#ff0000', 4.5);
mainLine(meanPrec, lineP, 0, '#ff0000', 4.5);

// snow risk
function snowflake(g, cx, cy) {
    g.append('circle').attr('cx', cx).attr('cy', cy).attr('r', 5)
        .style('fill', '#7cc4ee');
    [0, 60, 120].forEach(a => {
        let r = a * Math.PI / 180;
        g.append('line')
            .attr('x1', cx - 4 * Math.cos(r)).attr('y1', cy - 4 * Math.sin(r))
            .attr('x2', cx + 4 * Math.cos(r)).attr('y2', cy + 4 * Math.sin(r))
            .style('stroke', '#e8f8ff').style('stroke-width', 1);
    });
    g.append('circle').attr('cx', cx).attr('cy', cy).attr('r', 1.2)
        .style('fill', '#2a7cc8');
}

let snow = svg.append('g');
[[snowStart1, snowPct1], [snowStart2, snowPct2]].forEach(([h0, pct]) => {
    let xs = pct.map((p, i) => x(h0 + i * 6) - 2);
    snow.append('rect')
        .attr('x', xs[0] - 4).attr('y', 578)
        .attr('width', xs[xs.length - 1] - xs[0] + 8).attr('height', 6)
        .style('fill', '#c8ffff');
    pct.forEach((p, i) => {
        snowflake(snow, xs[i], 588);
        snow.append('text')
            .attr('transform', `translate(${xs[i] + 3}, 581) rotate(-90)`)
            .style('font-size', '8px')
            .style('font-weight', 'bold')
            .style('fill', '#0000ff')
            .text(p + '%');
    });
});

// legend
svg.append('rect').attr('x', 35).attr('y', 635).attr('width', 30).attr('height', 4).style('fill', '#ff0000');
svg.append('text').attr('x', 75).attr('y', 641).text('Moyenne des scénarios');
svg.append('rect').attr('x', 225).attr('y', 635).attr('width', 30).attr('height', 4).style('fill', '#0000ff');
svg.append('text').attr('x', 265).attr('y', 641).text('Run de contrôle');
svg.append('rect').attr('x', 225).attr('y', 645).attr('width', 30).attr('height', 4).style('fill', '#000');
svg.append('text').attr('x', 265).attr('y', 651).text('Run GFS');
snowflake(svg, 60, 658);
svg.append('text').attr('x', 75).attr('y', 663).text('Risque neige');
svg.append('text').attr('x', 340).attr('y', 656).text('30 Perts.');

let sw = svg.selectAll('.sw')
    .data(pertColors)
    .enter().append('g')
        .attr('transform', (d, i) => `translate(${400 + i * 11}, 0)`);
sw.append('rect')
    .attr('y', 650).attr('width', 10).attr('height', 6)
    .style('fill', d => d);
sw.append('text')
    .attr('x', 5).attr('y', 645)
    .attr('text-anchor', 'middle')
    .style('font-size', '7.5px')
    .style('font-weight', 'bold')
    .text((d, i) => String(i + 1).padStart(2, '0'));

// footer
svg.append('rect')
    .attr('x', 20.5).attr('y', 668.5).attr('width', 420).attr('height', 40)
    .style('fill', 'none').style('stroke', '#000');
svg.append('text').attr('x', 30).attr('y', 683)
    .style('font-weight', 'bold').style('font-size', '11.2px')
    .text('Diagramme des ensembles GEFS sur 384h pour Istanbul');
svg.append('text').attr('x', 30).attr('y', 695)
    .text('Températures 850hPa et 500hPa (°C) , précipitations (mm)');
svg.append('text').attr('x', 450).attr('y', 679)
    .text('Ensemble GEFS du 07/01/2021 - 00Z');
svg.append('text').attr('x', 450).attr('y', 696)
    .style('font-weight', 'bold').style('font-size', '11.4px')
    .text('Copyright 2021 Meteociel.fr');
</script>
